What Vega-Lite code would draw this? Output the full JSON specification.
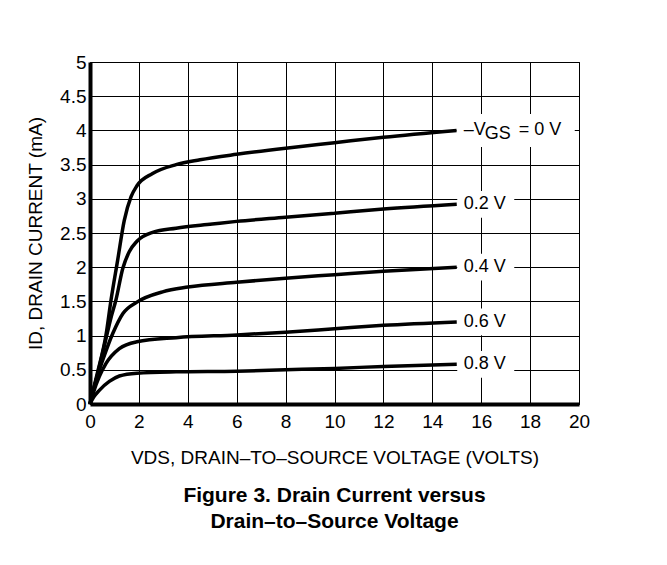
{
  "$schema": "https://vega.github.io/schema/vega-lite/v6.json",
  "width": 489,
  "height": 342,
  "autosize": {"type": "none"},
  "padding": {"left": 90, "top": 62, "right": 88, "bottom": 161},
  "background": "white",
  "config": {
    "font": "Liberation Sans",
    "view": {"stroke": "black", "strokeWidth": 1},
    "axis": {
      "grid": true,
      "gridColor": "black",
      "gridOpacity": 1,
      "gridWidth": 1,
      "domainColor": "black",
      "domainWidth": 4,
      "ticks": false,
      "labelFont": "Liberation Sans",
      "labelFontSize": 19,
      "labelColor": "black",
      "labelOverlap": false,
      "labelFlush": false,
      "titleFont": "Liberation Sans",
      "titleFontSize": 19,
      "titleFontWeight": "normal",
      "titleColor": "black"
    }
  },
  "title": {
    "text": ["Figure 3. Drain Current versus", "Drain–to–Source Voltage"],
    "orient": "bottom",
    "anchor": "middle",
    "font": "Liberation Sans",
    "fontSize": 21,
    "fontWeight": "bold",
    "color": "black",
    "lineHeight": 26,
    "offset": 18
  },
  "datasets": {
    "curves": [
      {"vgs": "0", "vds": 0, "id": 0},
      {"vgs": "0", "vds": 0.3, "id": 0.45},
      {"vgs": "0", "vds": 0.65, "id": 1.0},
      {"vgs": "0", "vds": 0.86, "id": 1.52},
      {"vgs": "0", "vds": 1.13, "id": 2.1},
      {"vgs": "0", "vds": 1.4, "id": 2.68},
      {"vgs": "0", "vds": 1.68, "id": 3.03},
      {"vgs": "0", "vds": 1.92, "id": 3.19},
      {"vgs": "0", "vds": 2.56, "id": 3.37},
      {"vgs": "0", "vds": 3.52, "id": 3.5},
      {"vgs": "0", "vds": 4.5, "id": 3.57},
      {"vgs": "0", "vds": 6, "id": 3.65},
      {"vgs": "0", "vds": 8, "id": 3.74},
      {"vgs": "0", "vds": 10, "id": 3.82},
      {"vgs": "0", "vds": 12, "id": 3.9},
      {"vgs": "0", "vds": 15, "id": 4.0},
      {"vgs": "0.2", "vds": 0, "id": 0},
      {"vgs": "0.2", "vds": 0.3, "id": 0.42},
      {"vgs": "0.2", "vds": 0.65, "id": 0.95},
      {"vgs": "0.2", "vds": 0.85, "id": 1.25},
      {"vgs": "0.2", "vds": 1.06, "id": 1.52},
      {"vgs": "0.2", "vds": 1.34, "id": 1.98},
      {"vgs": "0.2", "vds": 1.61, "id": 2.23},
      {"vgs": "0.2", "vds": 1.92, "id": 2.38},
      {"vgs": "0.2", "vds": 2.56, "id": 2.51},
      {"vgs": "0.2", "vds": 3.52, "id": 2.57},
      {"vgs": "0.2", "vds": 5, "id": 2.63},
      {"vgs": "0.2", "vds": 6, "id": 2.67},
      {"vgs": "0.2", "vds": 8, "id": 2.73},
      {"vgs": "0.2", "vds": 10, "id": 2.79},
      {"vgs": "0.2", "vds": 12, "id": 2.85},
      {"vgs": "0.2", "vds": 15, "id": 2.92},
      {"vgs": "0.4", "vds": 0, "id": 0},
      {"vgs": "0.4", "vds": 0.25, "id": 0.35},
      {"vgs": "0.4", "vds": 0.52, "id": 0.64},
      {"vgs": "0.4", "vds": 0.93, "id": 1.03},
      {"vgs": "0.4", "vds": 1.34, "id": 1.32},
      {"vgs": "0.4", "vds": 1.92, "id": 1.49},
      {"vgs": "0.4", "vds": 2.97, "id": 1.64},
      {"vgs": "0.4", "vds": 4, "id": 1.71},
      {"vgs": "0.4", "vds": 6, "id": 1.78},
      {"vgs": "0.4", "vds": 8, "id": 1.84},
      {"vgs": "0.4", "vds": 10, "id": 1.89},
      {"vgs": "0.4", "vds": 12, "id": 1.94},
      {"vgs": "0.4", "vds": 15, "id": 2.0},
      {"vgs": "0.6", "vds": 0, "id": 0},
      {"vgs": "0.6", "vds": 0.15, "id": 0.18},
      {"vgs": "0.6", "vds": 0.38, "id": 0.4},
      {"vgs": "0.6", "vds": 0.65, "id": 0.59},
      {"vgs": "0.6", "vds": 1.2, "id": 0.81},
      {"vgs": "0.6", "vds": 1.92, "id": 0.91},
      {"vgs": "0.6", "vds": 3.52, "id": 0.97},
      {"vgs": "0.6", "vds": 6, "id": 1.01},
      {"vgs": "0.6", "vds": 8, "id": 1.05},
      {"vgs": "0.6", "vds": 10, "id": 1.1},
      {"vgs": "0.6", "vds": 12, "id": 1.15},
      {"vgs": "0.6", "vds": 15, "id": 1.2},
      {"vgs": "0.8", "vds": 0, "id": 0},
      {"vgs": "0.8", "vds": 0.15, "id": 0.1},
      {"vgs": "0.8", "vds": 0.38, "id": 0.2},
      {"vgs": "0.8", "vds": 0.79, "id": 0.33},
      {"vgs": "0.8", "vds": 1.2, "id": 0.41},
      {"vgs": "0.8", "vds": 1.92, "id": 0.45},
      {"vgs": "0.8", "vds": 3.52, "id": 0.47},
      {"vgs": "0.8", "vds": 6, "id": 0.48},
      {"vgs": "0.8", "vds": 8, "id": 0.5},
      {"vgs": "0.8", "vds": 10, "id": 0.52},
      {"vgs": "0.8", "vds": 12, "id": 0.55},
      {"vgs": "0.8", "vds": 15, "id": 0.58}
    ],
    "labels": [
      {"label": "0.2 V", "vds": 15, "id": 2.92},
      {"label": "0.4 V", "vds": 15, "id": 2.0},
      {"label": "0.6 V", "vds": 15, "id": 1.2},
      {"label": "0.8 V", "vds": 15, "id": 0.58}
    ],
    "mainLabel": [
      {"pre": "–V", "sub": "GS", "post": "= 0 V", "vds": 15, "id": 4.0}
    ]
  },
  "encoding": {
    "x": {
      "field": "vds",
      "type": "quantitative",
      "scale": {"domain": [0, 20], "nice": false},
      "axis": {
        "values": [0, 2, 4, 6, 8, 10, 12, 14, 16, 18, 20],
        "title": "VDS, DRAIN–TO–SOURCE VOLTAGE (VOLTS)",
        "labelPadding": 8,
        "titlePadding": 17
      }
    },
    "y": {
      "field": "id",
      "type": "quantitative",
      "scale": {"domain": [0, 5], "nice": false},
      "axis": {
        "values": [0, 0.5, 1, 1.5, 2, 2.5, 3, 3.5, 4, 4.5, 5],
        "format": "~g",
        "title": "ID, DRAIN CURRENT (mA)",
        "labelPadding": 4,
        "titlePadding": 14
      }
    }
  },
  "layer": [
    {
      "data": {"name": "curves"},
      "mark": {"type": "line", "color": "black", "strokeWidth": 3.5, "interpolate": "monotone"},
      "encoding": {
        "detail": {"field": "vgs"}
      }
    },
    {
      "data": {"name": "labels"},
      "mark": {"type": "point", "shape": "M-1,-0.47H1V0.47H-1Z", "filled": true, "color": "white", "opacity": 1, "strokeWidth": 0, "size": 3249, "xOffset": 29}
    },
    {
      "data": {"name": "mainLabel"},
      "mark": {"type": "point", "shape": "M-1,-0.28H1V0.28H-1Z", "filled": true, "color": "white", "opacity": 1, "strokeWidth": 0, "size": 13924, "xOffset": 59}
    },
    {
      "data": {"name": "labels"},
      "mark": {"type": "text", "align": "left", "baseline": "middle", "dx": 7, "fontSize": 18, "font": "Liberation Sans", "color": "black"},
      "encoding": {
        "text": {"field": "label"}
      }
    },
    {
      "data": {"name": "mainLabel"},
      "mark": {"type": "text", "align": "left", "baseline": "middle", "dx": 7, "fontSize": 18, "font": "Liberation Sans", "color": "black"},
      "encoding": {
        "text": {"field": "pre"}
      }
    },
    {
      "data": {"name": "mainLabel"},
      "mark": {"type": "text", "align": "left", "baseline": "middle", "dx": 28, "dy": 4, "fontSize": 18, "font": "Liberation Sans", "color": "black"},
      "encoding": {
        "text": {"field": "sub"}
      }
    },
    {
      "data": {"name": "mainLabel"},
      "mark": {"type": "text", "align": "left", "baseline": "middle", "dx": 62, "fontSize": 18, "font": "Liberation Sans", "color": "black"},
      "encoding": {
        "text": {"field": "post"}
      }
    }
  ]
}
